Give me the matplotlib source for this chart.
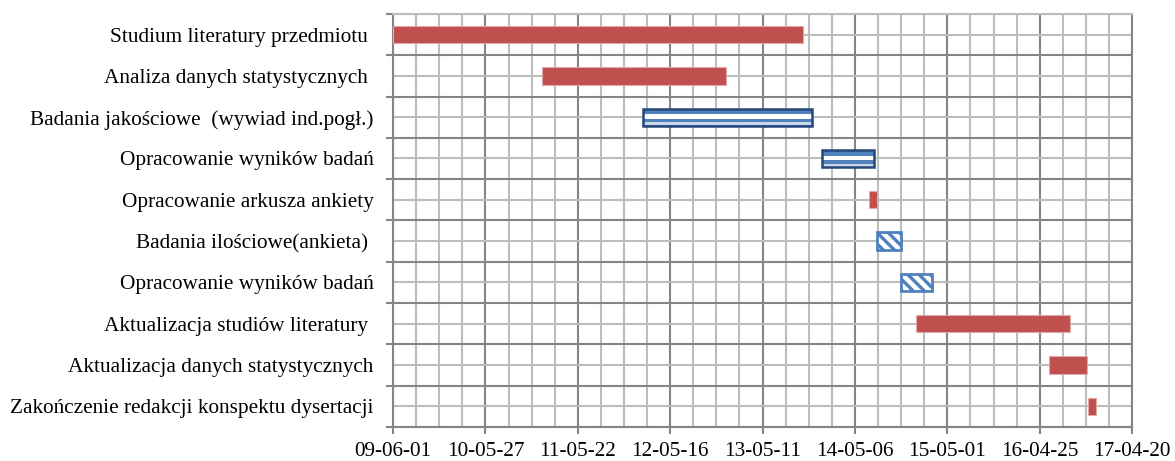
import pandas as pd
import numpy as np
import matplotlib.pyplot as plt
import matplotlib.dates as mdates

plt.rcParams['font.family'] = ['Liberation Serif', 'DejaVu Serif']
plt.rcParams['hatch.linewidth'] = 2.4

# tasks of the schedule, top to bottom
tasks = [
    "Studium literatury przedmiotu ",
    "Analiza danych statystycznych ",
    "Badania jakościowe  (wywiad ind.pogł.)",
    "Opracowanie wyników badań",
    "Opracowanie arkusza ankiety",
    "Badania ilościowe(ankieta) ",
    "Opracowanie wyników badań",
    "Aktualizacja studiów literatury ",
    "Aktualizacja danych statystycznych",
    "Zakończenie redakcji konspektu dysertacji",
]
starts = ["2009-06-01", "2011-01-01", "2012-01-31", "2013-12-30", "2014-07-01",
          "2014-08-01", "2014-11-01", "2014-12-31", "2016-05-30", "2016-11-01"]
ends = ["2013-10-15", "2012-12-20", "2013-11-21", "2014-07-21", "2014-07-31",
        "2014-10-31", "2015-03-01", "2016-08-22", "2016-10-27", "2016-11-29"]
# bar style per task: solid, striped (qualitative) or hatched (quantitative)
styles = ["solid", "solid", "striped", "striped", "solid",
          "hatched", "hatched", "solid", "solid", "solid"]

axis_start = "2009-06-01"
axis_end = "2017-04-20"

start_d = mdates.date2num(pd.to_datetime(starts))
end_d = mdates.date2num(pd.to_datetime(ends))
dur = end_d - start_d
y = np.arange(len(tasks))

fig = plt.figure(figsize=(11.75, 4.61), dpi=100)
ax = fig.add_axes([0.3345, 0.0738, 0.629, 0.896])

h = 0.42
red = '#C0504D'
blue = '#4F81BD'
dark_blue = '#24487A'

for i in range(len(tasks)):
    if styles[i] == "solid":
        ax.barh(y[i], dur[i], left=start_d[i], height=h, color=red,
                edgecolor='#E4A9A7', linewidth=0.8, zorder=3)
    elif styles[i] == "striped":
        ax.barh(y[i], dur[i], left=start_d[i], height=h, color=blue,
                linewidth=0, zorder=3)
        # white band through the middle and a pale band at the bottom
        ax.barh(y[i] - 0.04 * h, dur[i], left=start_d[i], height=h * 0.24,
                color='white', linewidth=0, zorder=3)
        ax.barh(y[i] + h * 0.38, dur[i], left=start_d[i], height=h * 0.18,
                color='#C9D7EA', linewidth=0, zorder=3)
        ax.barh(y[i], dur[i], left=start_d[i], height=h, fill=False,
                edgecolor=dark_blue, linewidth=1.8, zorder=4)
    else:
        ax.barh(y[i], dur[i], left=start_d[i], height=h, color='white',
                edgecolor=blue, hatch='\\\\\\', linewidth=0, zorder=3)
        ax.barh(y[i], dur[i], left=start_d[i], height=h, fill=False,
                edgecolor=blue, linewidth=2.0, zorder=4)

# x axis: dates every 360 days, minor grid every 90 days
x0 = mdates.date2num(pd.Timestamp(axis_start))
x1 = mdates.date2num(pd.Timestamp(axis_end))
ax.set_xlim(x0, x1)
ax.set_xticks(np.arange(x0, x1 + 1, 360))
ax.set_xticks(np.arange(x0, x1 + 1, 90), minor=True)
ax.xaxis.set_major_formatter(mdates.DateFormatter('%y-%m-%d'))

# y axis: rows with boundaries as major ticks, labels at row centres
ax.set_ylim(len(tasks) - 0.5, -0.5)
ax.set_yticks(np.arange(-0.5, len(tasks), 1.0))
ax.set_yticklabels([])
ax.set_yticks(y, minor=True)
ax.set_yticklabels(tasks, minor=True)

ax.grid(True, which='major', color='#858585', linewidth=1.5, zorder=0)
ax.grid(True, which='minor', color='#BDBDBD', linewidth=1.5, zorder=0)
ax.set_axisbelow(True)

ax.tick_params(axis='x', which='major', length=5, width=1.5, color='#858585',
               labelsize=15.3, pad=6)
ax.tick_params(axis='x', which='minor', length=0)
ax.tick_params(axis='y', which='major', length=5, width=1.5, color='#858585')
ax.tick_params(axis='y', which='minor', length=0, labelsize=15.3, pad=14)

for side in ['left', 'bottom']:
    ax.spines[side].set_color('#858585')
    ax.spines[side].set_linewidth(1.5)
ax.spines['top'].set_color('#BDBDBD')
ax.spines['top'].set_linewidth(1.5)
ax.spines['right'].set_color('#858585')
ax.spines['right'].set_linewidth(1.5)

fig.savefig('out.png', dpi=100)
